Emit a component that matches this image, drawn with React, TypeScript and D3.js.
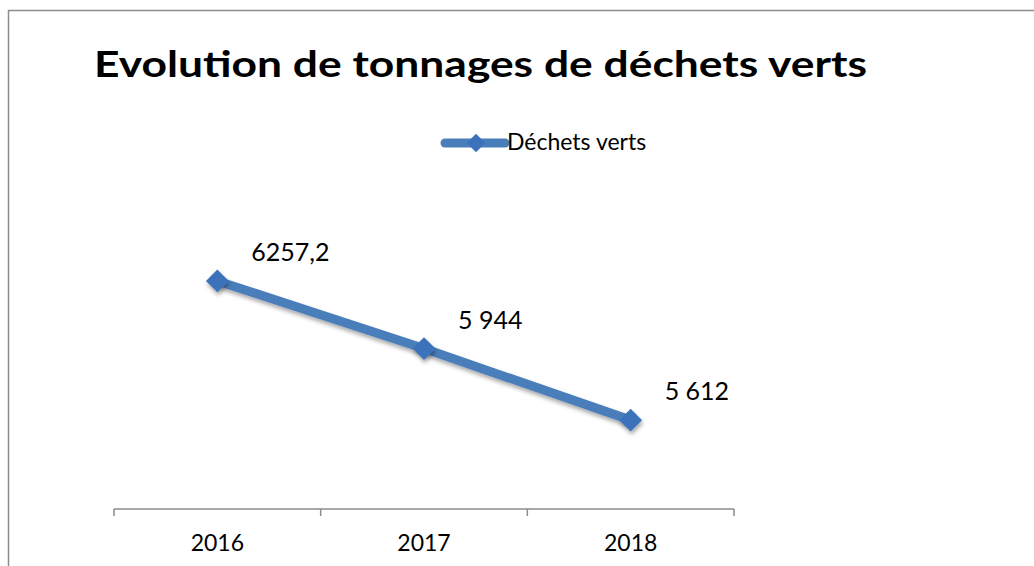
import React, { useEffect, useRef } from "react";
import * as d3 from "d3";

const years = ["2016", "2017", "2018"];
const values = [6257.2, 5944, 5612];
const valueLabels = ["6257,2", "5 944", "5 612"];
const seriesName = "Déchets verts";
const title = "Evolution de tonnages de déchets verts";

const W = 1034;
const H = 566;
const plot = { left: 114, right: 734, top: 207, bottom: 509 };
const blue = "#4a7ebb";
const markerBlue = "#3b72b9";
const font = "Lato, 'Open Sans', sans-serif";

const drawChart = (ref: SVGSVGElement) => {
    const svg = d3.select(ref);
    svg.selectAll("*").remove();

    const defs = svg.append("defs");
    const shadow = defs.append("filter").attr("id", "shadow").attr("x", "-50%").attr("y", "-50%").attr("width", "200%").attr("height", "200%");
    shadow.append("feDropShadow").attr("dx", 1).attr("dy", 3).attr("stdDeviation", 2).attr("flood-color", "#000").attr("flood-opacity", 0.35);

    // chart frame
    svg.append("rect")
        .attr("x", 8.5)
        .attr("y", 10.5)
        .attr("width", W + 20)
        .attr("height", H + 20)
        .attr("fill", "white")
        .attr("stroke", "#8c8c8c")
        .attr("stroke-width", 1.5);

    svg.append("text")
        .attr("x", 94)
        .attr("y", 77)
        .attr("font-family", font)
        .attr("font-weight", "bold")
        .attr("font-size", 37)
        .attr("textLength", 773)
        .attr("lengthAdjust", "spacingAndGlyphs")
        .attr("fill", "#000")
        .text(title);

    const x = d3.scaleBand().domain(years).range([plot.left, plot.right]);
    const y = d3.scaleLinear().domain([5200, 6600]).range([plot.bottom, plot.top]);
    const cx = (d: string) => (x(d) ?? 0) + x.bandwidth() / 2;

    // x axis, ticks on category boundaries
    const axis = svg.append("g").attr("stroke", "#8c8c8c").attr("stroke-width", 1.5).attr("fill", "none");
    axis.append("line").attr("x1", plot.left).attr("x2", plot.right).attr("y1", plot.bottom).attr("y2", plot.bottom);
    const bounds = years.map((d) => x(d) ?? 0).concat([plot.right]);
    axis.selectAll("line.tick")
        .data(bounds)
        .enter()
        .append("line")
        .attr("class", "tick")
        .attr("x1", (d) => d)
        .attr("x2", (d) => d)
        .attr("y1", plot.bottom)
        .attr("y2", plot.bottom + 7);

    svg.append("g")
        .selectAll("text")
        .data(years)
        .enter()
        .append("text")
        .attr("x", cx)
        .attr("y", plot.bottom + 42)
        .attr("text-anchor", "middle")
        .attr("font-family", font)
        .attr("font-size", 23)
        .attr("fill", "#000")
        .text((d) => d);

    const pts = years.map((d, i) => [cx(d), y(values[i])] as [number, number]);

    svg.append("path")
        .attr("d", d3.line()(pts))
        .attr("fill", "none")
        .attr("stroke", blue)
        .attr("stroke-width", 9)
        .attr("stroke-linejoin", "round")
        .attr("filter", "url(#shadow)");

    const diamond = d3.symbol().type(d3.symbolDiamond2).size(330);
    svg.append("g")
        .selectAll("path")
        .data(pts)
        .enter()
        .append("path")
        .attr("d", diamond())
        .attr("transform", (d) => `translate(${d[0]},${d[1]})`)
        .attr("fill", markerBlue)
        .attr("filter", "url(#shadow)");

    svg.append("g")
        .selectAll("text")
        .data(pts)
        .enter()
        .append("text")
        .attr("x", (d) => d[0] + 34)
        .attr("y", (d) => d[1] - 20)
        .attr("font-family", font)
        .attr("font-size", 25)
        .attr("fill", "#000")
        .text((d, i) => valueLabels[i]);

    // legend
    const legend = svg.append("g").attr("transform", "translate(445,143)");
    legend.append("line")
        .attr("x1", 0)
        .attr("x2", 60)
        .attr("stroke", blue)
        .attr("stroke-width", 9)
        .attr("stroke-linecap", "round");
    legend.append("path").attr("d", d3.symbol().type(d3.symbolDiamond2).size(220)()).attr("transform", "translate(31,0)").attr("fill", markerBlue);
    legend.append("text")
        .attr("x", 62)
        .attr("y", 7)
        .attr("font-family", font)
        .attr("font-size", 23)
        .attr("fill", "#000")
        .text(seriesName);
};

export default function App() {
    const svgRef = useRef<SVGSVGElement>(null);

    useEffect(() => {
        if (svgRef.current) drawChart(svgRef.current);
    }, []);

    return <svg ref={svgRef} width={W} height={H} style={{ position: "absolute", left: 0, top: 0, background: "white" }} />;
}
